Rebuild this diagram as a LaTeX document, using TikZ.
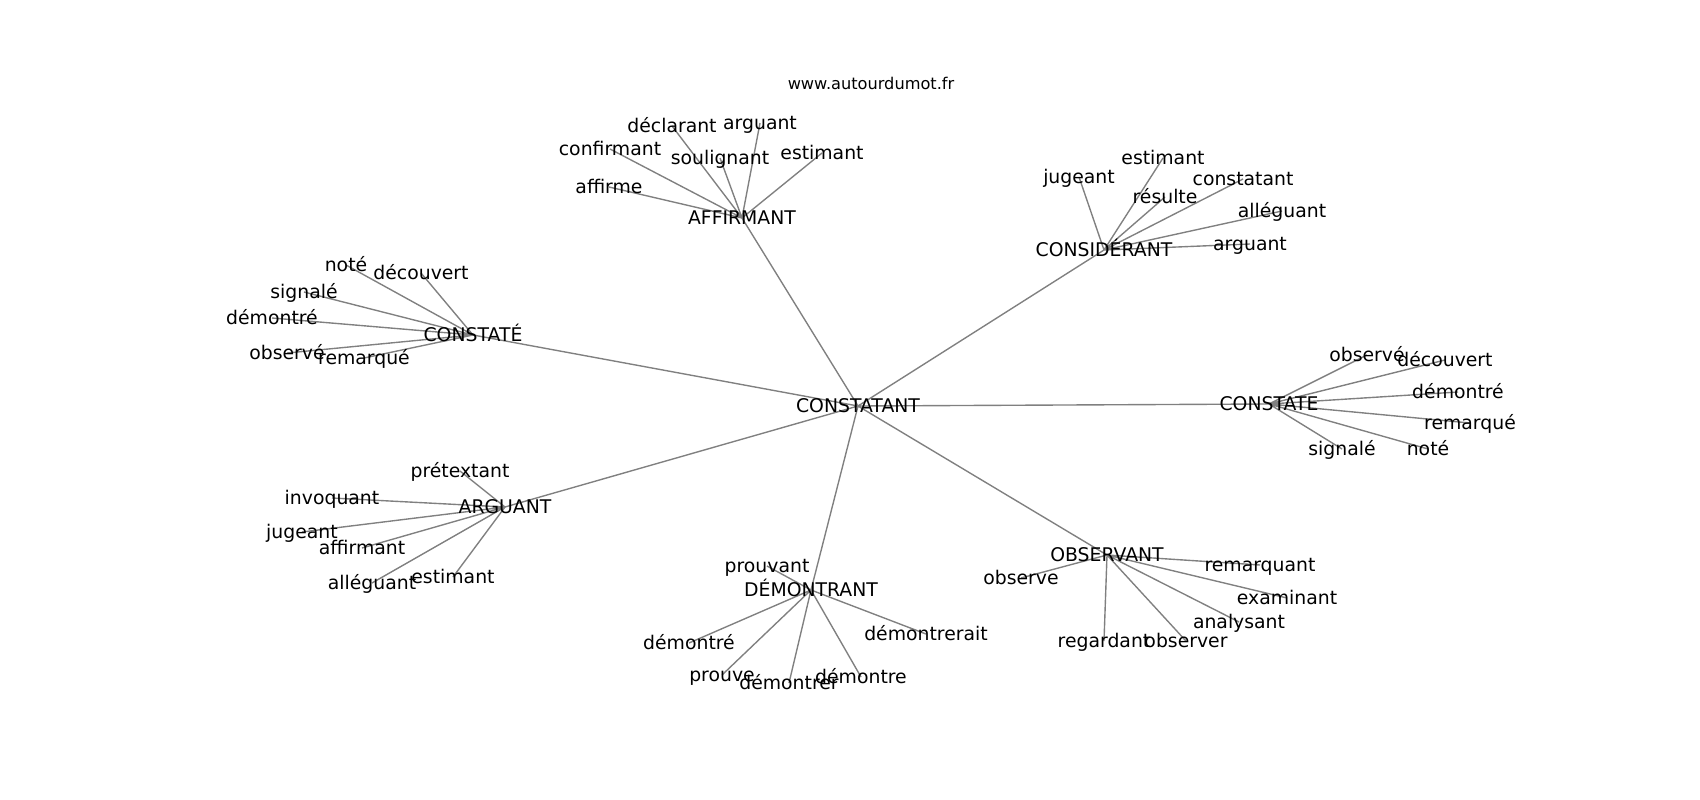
\documentclass[tikz,border=0pt]{standalone}
\usepackage{fontspec}
\setmainfont{DejaVu Sans}
\usetikzlibrary{backgrounds}
\newcommand{\wordfont}{\fontsize{13.6}{16}\selectfont}
\tikzset{
  word/.style={font=\wordfont, inner sep=0pt, anchor=center, text height=1em, text depth=0pt},
  link/.style={draw=gray, line width=1pt}
}
\begin{document}
\begin{tikzpicture}[x=0.254mm, y=-0.254mm]
    \useasboundingbox (0, 0) rectangle (1700, 800);
    \node [font=\fontsize{11.7}{14}\selectfont] (site) at (871, 83) {www.autourdumot.fr};

    \node [word] (constatant) at (858, 406) {CONSTATANT};

    % AFFIRMANT
    \node [word] (affirmant) at (742, 218) {AFFIRMANT};
    \node [word] (aff-declarant) at (672, 126) {déclarant};
    \node [word] (aff-arguant) at (760, 123) {arguant};
    \node [word] (aff-confirmant) at (610, 149) {confirmant};
    \node [word] (aff-soulignant) at (720, 158) {soulignant};
    \node [word] (aff-estimant) at (822, 153) {estimant};
    \node [word] (aff-affirme) at (609, 187) {affirme};

    % CONSIDERANT
    \node [word] (considerant) at (1104, 250) {CONSIDÉRANT};
    \node [word] (con-jugeant) at (1079, 177) {jugeant};
    \node [word] (con-estimant) at (1163, 158) {estimant};
    \node [word] (con-constatant) at (1243, 179) {constatant};
    \node [word] (con-resulte) at (1165, 197) {résulte};
    \node [word] (con-alleguant) at (1282, 211) {alléguant};
    \node [word] (con-arguant) at (1250, 244) {arguant};

    % CONSTATE with accent
    \node [word] (constatee) at (473, 335) {CONSTATÉ};
    \node [word] (cte-note) at (346, 265) {noté};
    \node [word] (cte-decouvert) at (421, 273) {découvert};
    \node [word] (cte-signale) at (304, 292) {signalé};
    \node [word] (cte-demontre) at (272, 318) {démontré};
    \node [word] (cte-observe) at (287, 353) {observé};
    \node [word] (cte-remarque) at (364, 358) {remarqué};

    % CONSTATE
    \node [word] (constate) at (1269, 404) {CONSTATE};
    \node [word] (cst-observe) at (1367, 355) {observé};
    \node [word] (cst-decouvert) at (1445, 360) {découvert};
    \node [word] (cst-demontre) at (1458, 392) {démontré};
    \node [word] (cst-remarque) at (1470, 423) {remarqué};
    \node [word] (cst-signale) at (1342, 449) {signalé};
    \node [word] (cst-note) at (1428, 449) {noté};

    % ARGUANT
    \node [word] (arguant) at (505, 507) {ARGUANT};
    \node [word] (arg-pretextant) at (460, 471) {prétextant};
    \node [word] (arg-invoquant) at (332, 498) {invoquant};
    \node [word] (arg-jugeant) at (302, 532) {jugeant};
    \node [word] (arg-affirmant) at (362, 548) {affirmant};
    \node [word] (arg-alleguant) at (372, 583) {alléguant};
    \node [word] (arg-estimant) at (453, 577) {estimant};

    % DEMONTRANT
    \node [word] (demontrant) at (811, 590) {DÉMONTRANT};
    \node [word] (dem-prouvant) at (767, 566) {prouvant};
    \node [word] (dem-demontre) at (689, 643) {démontré};
    \node [word] (dem-demontrerait) at (926, 634) {démontrerait};
    \node [word] (dem-prouve) at (722, 675) {prouve};
    \node [word] (dem-demontrer) at (789, 683) {démontrer};
    \node [word] (dem-demontreB) at (861, 677) {démontre};

    % OBSERVANT
    \node [word] (observant) at (1107, 555) {OBSERVANT};
    \node [word] (obs-observe) at (1021, 578) {observe};
    \node [word] (obs-remarquant) at (1260, 565) {remarquant};
    \node [word] (obs-examinant) at (1287, 598) {examinant};
    \node [word] (obs-analysant) at (1239, 622) {analysant};
    \node [word] (obs-regardant) at (1104, 641) {regardant};
    \node [word] (obs-observer) at (1186, 641) {observer};

    \begin{pgfonlayer}{background}
    \draw [link] (constatant.center) -- (affirmant.center)
        (constatant.center) -- (considerant.center)
        (constatant.center) -- (constatee.center)
        (constatant.center) -- (constate.center)
        (constatant.center) -- (arguant.center)
        (constatant.center) -- (demontrant.center)
        (constatant.center) -- (observant.center);

    \draw [link] (affirmant.center) -- (aff-declarant.center)
        (affirmant.center) -- (aff-arguant.center)
        (affirmant.center) -- (aff-confirmant.center)
        (affirmant.center) -- (aff-soulignant.center)
        (affirmant.center) -- (aff-estimant.center)
        (affirmant.center) -- (aff-affirme.center);

    \draw [link] (considerant.center) -- (con-jugeant.center)
        (considerant.center) -- (con-estimant.center)
        (considerant.center) -- (con-constatant.center)
        (considerant.center) -- (con-resulte.center)
        (considerant.center) -- (con-alleguant.center)
        (considerant.center) -- (con-arguant.center);

    \draw [link] (constatee.center) -- (cte-note.center)
        (constatee.center) -- (cte-decouvert.center)
        (constatee.center) -- (cte-signale.center)
        (constatee.center) -- (cte-demontre.center)
        (constatee.center) -- (cte-observe.center)
        (constatee.center) -- (cte-remarque.center);

    \draw [link] (constate.center) -- (cst-observe.center)
        (constate.center) -- (cst-decouvert.center)
        (constate.center) -- (cst-demontre.center)
        (constate.center) -- (cst-remarque.center)
        (constate.center) -- (cst-signale.center)
        (constate.center) -- (cst-note.center);

    \draw [link] (arguant.center) -- (arg-pretextant.center)
        (arguant.center) -- (arg-invoquant.center)
        (arguant.center) -- (arg-jugeant.center)
        (arguant.center) -- (arg-affirmant.center)
        (arguant.center) -- (arg-alleguant.center)
        (arguant.center) -- (arg-estimant.center);

    \draw [link] (demontrant.center) -- (dem-prouvant.center)
        (demontrant.center) -- (dem-demontre.center)
        (demontrant.center) -- (dem-demontrerait.center)
        (demontrant.center) -- (dem-prouve.center)
        (demontrant.center) -- (dem-demontrer.center)
        (demontrant.center) -- (dem-demontreB.center);

    \draw [link] (observant.center) -- (obs-observe.center)
        (observant.center) -- (obs-remarquant.center)
        (observant.center) -- (obs-examinant.center)
        (observant.center) -- (obs-analysant.center)
        (observant.center) -- (obs-regardant.center)
        (observant.center) -- (obs-observer.center);
    \end{pgfonlayer}
\end{tikzpicture}
\end{document}
